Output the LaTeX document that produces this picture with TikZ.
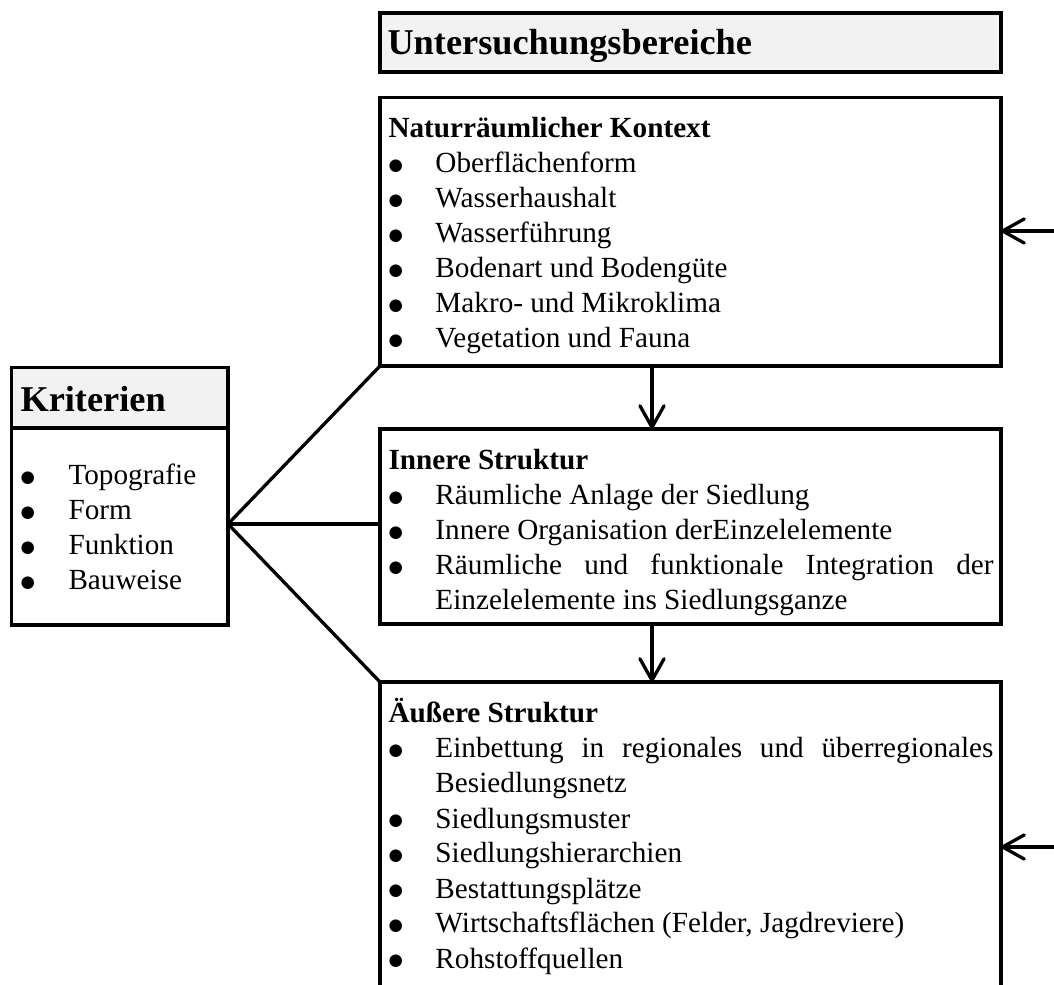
\documentclass[tikz,border=0pt]{standalone}
\usepackage{fontspec}
\setmainfont{Liberation Serif}
\newfontfamily\punktschrift{DejaVu Sans}
\usetikzlibrary{arrows.meta,positioning}
\hyphenpenalty=10000
\tolerance=10000
\newcommand{\px}{0.3937pt}
\newcommand{\dicker}{\raisebox{1.1pt}{\fontsize{6.5}{6.5}\punktschrift ●}}
\newcommand{\bpunkt}[1]{\noindent\hangindent=18.5pt\hangafter=1\makebox[18.5pt][l]{\dicker}#1\par}
\newcommand{\kpunkt}[1]{\noindent\hangindent=18.9pt\hangafter=1\makebox[18.9pt][l]{\dicker}#1\par}

\begin{document}
\begin{tikzpicture}[
    x=\px, y=-\px,
    box/.style={draw, line width=1.3pt, inner sep=0, outer sep=0},
    kopf/.style={box, fill=gray!10},
    txt/.style={anchor=base west, inner sep=0, font=\fontsize{11.5}{13.78}\selectfont},
    titel/.style={anchor=base west, inner sep=0, font=\fontsize{14.3}{16}\selectfont\bfseries},
    linie/.style={line width=1.3pt},
    pfeil/.style={line width=1.3pt, -{Straight Barb[length=8.5pt, width=9.5pt, round]}}]
\clip (0,0) rectangle (1054,985);

\node[kopf, minimum width={621*\px}, minimum height={59*\px}] (bereiche) at (690.5,42.5) {};
\node[box, minimum width={621*\px}, minimum height={268.5*\px}] (natur) at (690.5,231.75) {};
\node[box, minimum width={621*\px}, minimum height={195*\px}] (innere) at (690.5,526.5) {};
\node[box, minimum width={621*\px}, minimum height={328*\px}] (aeussere) at (690.5,846) {};
\node[kopf, minimum width={216.5*\px}, minimum height={60.5*\px}] (kritkopf) at (119.75,397.75) {};
\node[box, minimum width={216.5*\px}, minimum height={197*\px}] (kriterien) at (119.75,526.5) {};

\node[titel] (bereichetitel) at (387,55) {Untersuchungsbereiche};
\node[titel] (krittitel) at (20,412) {Kriterien};

\node[txt, text width={605*\px}, align=justify] (naturtext) at (388,138) {%
  \textbf{Naturräumlicher Kontext}\par
  \bpunkt{Oberflächenform}
  \bpunkt{Wasserhaushalt}
  \bpunkt{Wasserführung}
  \bpunkt{Bodenart und Bodengüte}
  \bpunkt{Makro- und Mikroklima}
  \bpunkt{Vegetation und Fauna}};
\node[txt, text width={605*\px}, align=justify] (inneretext) at (388,470) {%
  \textbf{Innere Struktur}\par
  \bpunkt{Räumliche Anlage der Siedlung}
  \bpunkt{Innere Organisation derEinzelelemente}
  \bpunkt{Räumliche und funktionale Integration der Einzelelemente ins Siedlungsganze}};
\node[txt, text width={605*\px}, align=justify] (aeusseretext) at (388,723) {%
  \textbf{Äußere Struktur}\par
  \bpunkt{Einbettung in regionales und überregionales Besiedlungsnetz}
  \bpunkt{Siedlungsmuster}
  \bpunkt{Siedlungshierarchien}
  \bpunkt{Bestattungsplätze}
  \bpunkt{Wirtschaftsflächen (Felder, Jagdreviere)}
  \bpunkt{Rohstoffquellen}};
\node[txt, text width={200*\px}, align=left] (krittext) at (20,485) {%
  \kpunkt{Topografie}
  \kpunkt{Form}
  \kpunkt{Funktion}
  \kpunkt{Bauweise}};

\coordinate (fan) at (228,524);
\coordinate (pfeilx) at (652,0);
\coordinate (vonrechtsA) at (1054,231);
\coordinate (vonrechtsB) at (1054,847);

\draw[linie] (natur.south west) -- (fan) -- (aeussere.north west);
\draw[linie] (fan) -- (fan -| innere.west);
\draw[pfeil] (natur.south -| pfeilx) -- (innere.north -| pfeilx);
\draw[pfeil] (innere.south -| pfeilx) -- (aeussere.north -| pfeilx);
\draw[pfeil] (vonrechtsA) -- (vonrechtsA -| natur.east);
\draw[pfeil] (vonrechtsB) -- (vonrechtsB -| aeussere.east);
\end{tikzpicture}
\end{document}
